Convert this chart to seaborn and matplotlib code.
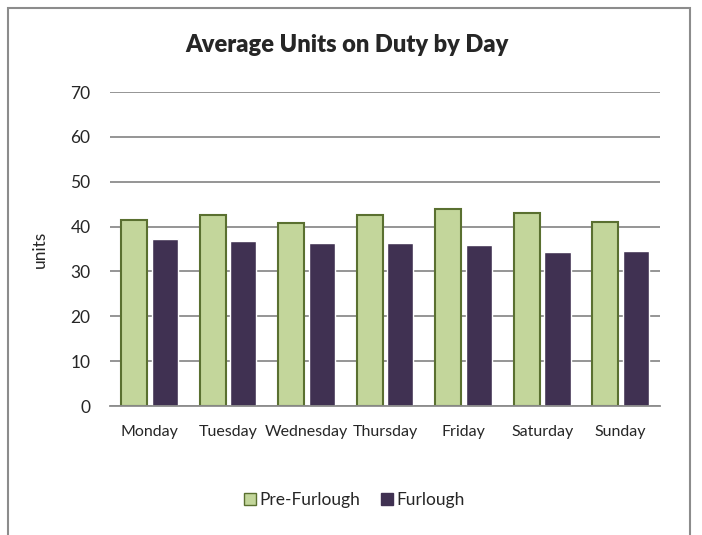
# Average Units on Duty by Day - Balkendiagramm
import matplotlib
matplotlib.use("Agg")
import matplotlib.pyplot as plt
from matplotlib.patches import Rectangle
import seaborn as sns
import pandas as pd

# Daten
tage = ["Monday", "Tuesday", "Wednesday", "Thursday", "Friday", "Saturday", "Sunday"]
pre_furlough = [41.5, 42.6, 40.8, 42.6, 43.9, 43.0, 41.0]
furlough = [37.3, 36.8, 36.4, 36.4, 35.8, 34.3, 34.6]
serien = ["Pre-Furlough", "Furlough"]

df = pd.DataFrame({
    "Tag": tage * 2,
    "Wert": pre_furlough + furlough,
    "Serie": [serien[0]] * len(tage) + [serien[1]] * len(tage),
})

sns.set_style("white")
plt.rcParams["font.family"] = ["Lato", "DejaVu Sans"]

fig = plt.figure(figsize=(7.02, 5.35), dpi=100)
ax = fig.add_axes([0.1567, 0.2411, 0.7835, 0.5869])

farben = {"Pre-Furlough": "#C3D69B", "Furlough": "#403152"}
sns.barplot(data=df, x="Tag", y="Wert", hue="Serie", palette=farben, saturation=1,
            width=0.78, gap=0.15, ax=ax, legend=False)

# Rand der Pre-Furlough-Balken
for patch in ax.containers[0]:
    patch.set_edgecolor("#5A7030")
    patch.set_linewidth(1.5)

ax.set_ylim(0, 70)
ax.set_yticks(range(0, 71, 10))
ax.yaxis.grid(True, color="#8C8C8C", linewidth=1.3)
ax.set_axisbelow(True)
for s in ["top", "right", "left"]:
    ax.spines[s].set_visible(False)
ax.spines["bottom"].set_color("#8C8C8C")
ax.spines["bottom"].set_linewidth(1.3)
ax.tick_params(axis="y", length=0, labelsize=12.5, pad=14)
ax.tick_params(axis="x", length=0, labelsize=11.5, pad=14)
ax.set_xlabel("")
ax.set_ylabel("units", fontsize=12.5, labelpad=16)

fig.text(0.495, 0.915, "Average Units on Duty by Day", ha="center", va="center",
         fontsize=17, fontweight="heavy")

# Legende
handles = [Rectangle((0, 0), 1, 1, facecolor=farben["Pre-Furlough"], edgecolor="#5A7030"),
           Rectangle((0, 0), 1, 1, facecolor=farben["Furlough"], edgecolor=farben["Furlough"])]
fig.legend(handles, serien, loc="center", bbox_to_anchor=(0.505, 0.065), ncol=2,
           frameon=False, fontsize=12.5, handlelength=0.7, handleheight=0.7,
           handletextpad=0.2, columnspacing=1.2)

# Rahmen
fig.patches.append(Rectangle((8 / 702, -0.1), 682 / 702, 1.1 - 8 / 535, transform=fig.transFigure,
                             fill=False, edgecolor="#8C8C8C", linewidth=1.5))

fig.savefig("out.png", dpi=100)
